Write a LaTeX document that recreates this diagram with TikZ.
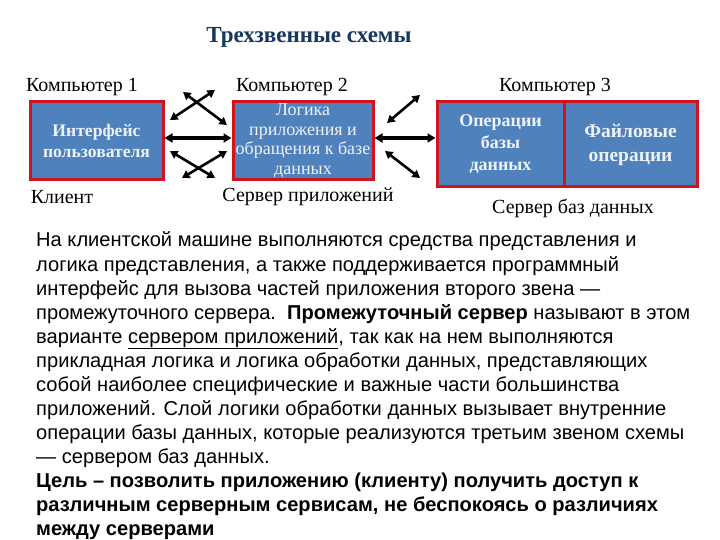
\documentclass[tikz,border=0pt]{standalone}
\usepackage{fontspec}
\setmainfont{Liberation Serif}
\newfontfamily\bodyfont{Liberation Sans}
\usetikzlibrary{arrows.meta}
\definecolor{boxblue}{HTML}{4F81BD}
\definecolor{boxred}{HTML}{D0141E}
\definecolor{boxtext}{HTML}{EEF2FA}
\definecolor{titleblue}{HTML}{17375E}
\tikzset{
  tier/.style={draw=boxred, fill=boxblue, line width=3pt, minimum height=78pt, inner sep=0pt,
    align=center, text=boxtext},
  lbl/.style={font=\fontsize{20}{23}\selectfont, inner sep=0pt},
  body/.style={anchor=base west, inner sep=0pt, font=\bodyfont\fontsize{20.1}{24}\selectfont},
  boldbody/.style={body, font=\bodyfont\bfseries\fontsize{20.1}{24}\selectfont},
  harrow/.style={{Triangle[length=8pt,width=9pt]}-{Triangle[length=8pt,width=9pt]}, line width=3.2pt},
  darrow/.style={{Triangle[length=7.5pt,width=8.5pt]}-{Triangle[length=7.5pt,width=8.5pt]}, line width=2.6pt}
}
\begin{document}
\begin{tikzpicture}[x=1pt,y=-1pt]
\useasboundingbox (0,0) rectangle (720,540);
\node[font=\fontsize{23}{27}\selectfont\bfseries, text=titleblue, inner sep=0pt] (title) at (309,37) {Трехзвенные схемы};

\node[lbl] (comp1) at (82,87) {Компьютер 1};
\node[lbl] (comp2) at (292,87) {Компьютер 2};
\node[lbl] (comp3) at (555,87) {Компьютер 3};

\node[tier, minimum width=133pt, font=\fontsize{17.6}{21}\selectfont\bfseries] (box1) at (96.5,141) {Интерфейс\\пользователя};
\node[tier, minimum width=140pt, font=\fontsize{18}{19.5}\selectfont] (box2) at (303,141) {Логика\\приложения и\\обращения к базе\\данных};
\node[tier, minimum width=127pt, minimum height=85pt, font=\fontsize{18}{22}\selectfont\bfseries] (box3a) at (500.5,144.5) {Операции\\базы\\данных};
\node[tier, minimum width=133pt, minimum height=85pt, font=\fontsize{19.5}{24}\selectfont\bfseries] (box3b) at (630.5,144.5) {Файловые\\операции};

\node[lbl] (client) at (62,197) {Клиент};
\node[lbl] (appsrv) at (308,197) {Сервер приложений};
\node[lbl] (dbsrv) at (573,208) {Сервер баз данных};

\draw[harrow] ([yshift=3pt]box1.east) -- ([yshift=3pt]box2.west);
\draw[harrow] ([yshift=3pt]box2.east) -- ([yshift=6.5pt]box3a.west);

\coordinate (d1a) at (170,120); \coordinate (d1b) at (215,90);
\coordinate (d2a) at (183,92);  \coordinate (d2b) at (227,125);
\coordinate (d3a) at (170,151); \coordinate (d3b) at (215,178);
\coordinate (d4a) at (182,178); \coordinate (d4b) at (227,151);
\coordinate (d5a) at (387,123); \coordinate (d5b) at (420,95);
\coordinate (d6a) at (385,151); \coordinate (d6b) at (420,178);
\draw[darrow] (d1a) -- (d1b);
\draw[darrow] (d2a) -- (d2b);
\draw[darrow] (d3a) -- (d3b);
\draw[darrow] (d4a) -- (d4b);
\draw[darrow] (d5a) -- (d5b);
\draw[darrow] (d6a) -- (d6b);

\node[body] (t1) at (36,247) {На клиентской машине выполняются средства представления и};
\node[body] (t2) at (36,271) {логика представления, а также поддерживается программный};
\node[body] (t3) at (36,295) {интерфейс для вызова частей приложения второго звена —};
\node[body] (t4) at (36,319) {промежуточного сервера.\ \ \textbf{Промежуточный сервер} называют в этом};
\node[body] (t5) at (36,343) {варианте \underline{серверoм приложений}, так как на нем выполняются};
\node[body] (t6) at (36,367) {прикладная логика и логика обработки данных, представляющих};
\node[body] (t7) at (36,391) {собой наиболее специфические и важные части большинства};
\node[body] (t8) at (36,415) {приложений. Слой логики обработки данных вызывает внутренние};
\node[body] (t9) at (36,439) {операции базы данных, которые реализуются третьим звеном схемы};
\node[body] (t10) at (36,463) {— сервером баз данных.};
\node[boldbody] (t11) at (36,487) {Цель – позволить приложению (клиенту) получить доступ к};
\node[boldbody] (t12) at (36,511) {различным серверным сервисам, не беспокоясь о различиях};
\node[boldbody] (t13) at (36,535) {между серверами};
\end{tikzpicture}
\end{document}
